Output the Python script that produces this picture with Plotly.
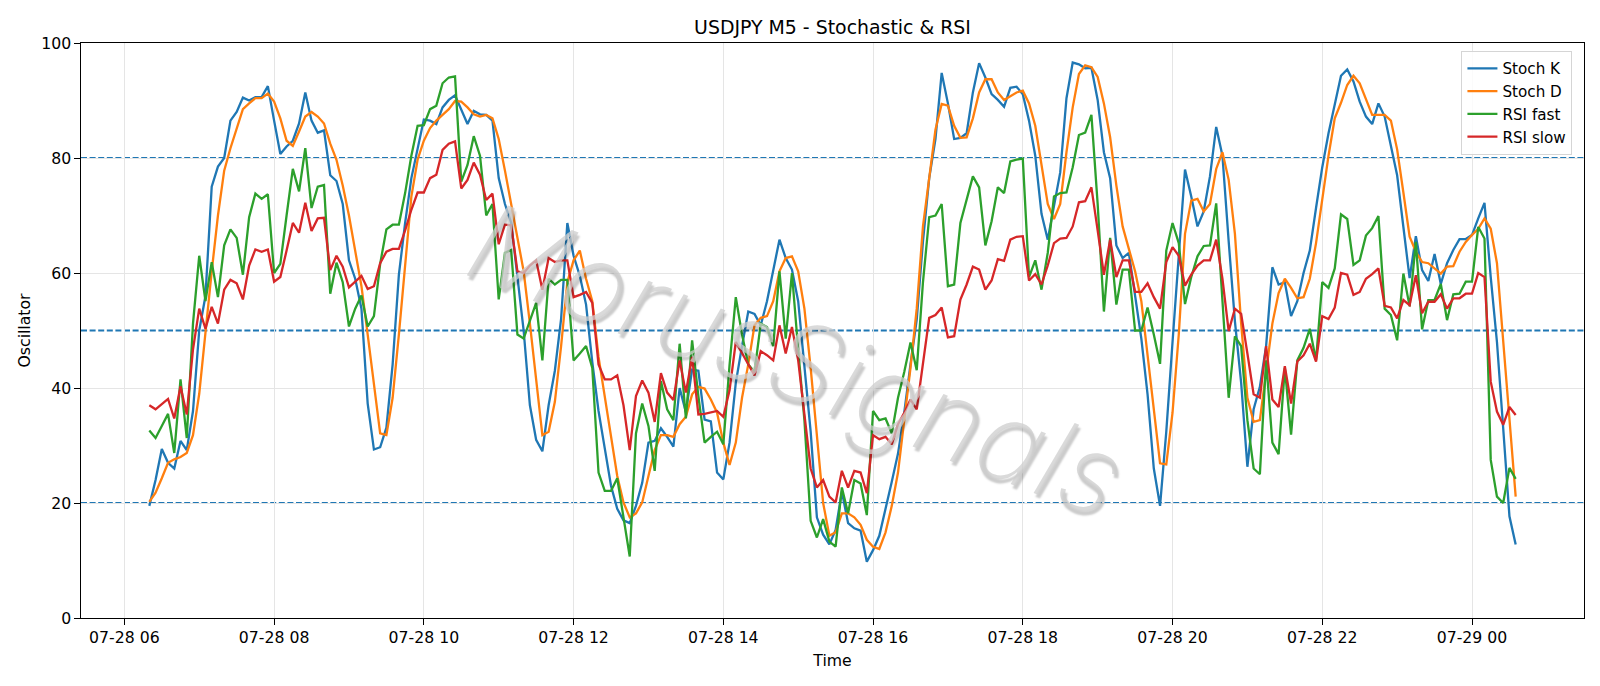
import pandas as pd
import plotly.graph_objects as go

# ---------------- data ----------------
start_time = "2024-07-28 06:20"
n_points = 220
step = "5min"

stoch_k = [
    19.5, 24, 29.4, 27, 26, 30.8, 29.2, 36, 50, 56,
    75, 78.5, 80, 86.5, 88, 90.5, 90, 90.6, 90.6, 92.5,
    86.5, 80.7, 82, 83, 86, 91.4, 86.5, 84.4, 84.8, 77,
    76, 72, 62.2, 59, 53.8, 37.3, 29.3, 29.7, 33.1, 44.1,
    59.7, 68.7, 76.5, 81.7, 86.7, 86.5, 85.9, 88.8, 90.1, 90.9,
    88.5, 85.9, 88.2, 87.6, 87.5, 86.5, 76.5, 72, 68.7, 59.5,
    50, 37, 31, 29, 37, 43, 52, 68.7, 63, 59.5,
    54.5, 44.5, 36, 29.5, 23, 19, 17, 16.5, 19.5, 23.5,
    30.5, 30.8, 33, 31.5, 29.8, 40, 35.8, 43.2, 43, 34.5,
    34.2, 25.3, 24.1, 30.5, 40.9, 47.3, 53.3, 52.9, 50.9, 55.1,
    60.3, 65.8, 62.6, 60.6, 55.1, 43.5, 32.4, 17.5, 14.5, 12.8,
    15.3, 22, 16.5, 15.6, 15.2, 9.8, 11.8, 14.3, 18.8, 23.7,
    28.6, 35.7, 44.1, 51.9, 65.5, 76.5, 83.3, 94.8, 89.5, 83.3,
    83.5, 84.3, 91.4, 96.5, 94, 91.1, 90.1, 88.9, 92.2, 92.4,
    91.1, 86.5, 80.4, 70.3, 65.8, 72, 77.5, 90.4, 96.6, 96.3,
    95.6, 95.7, 90.1, 81, 76.5, 64.8, 62.6, 63.5, 56.4, 48.6,
    38.9, 26, 19.5, 32.4, 48, 63.5, 78, 73.3, 68.1, 70.7,
    76.8, 85.4, 80.4, 65.5, 51.6, 40.9, 26.3, 36.3, 40.2, 47.3,
    61, 58, 58.4, 52.5, 55.1, 60, 63.9, 71.3, 78.4, 84.3,
    89.5, 94.3, 95.4, 93.3, 89.8, 87.2, 85.9, 89.5, 87.2, 82.3,
    77, 68, 59.1, 66.4, 60.5, 58.6, 63.3, 58.1, 61.7, 64,
    65.9, 65.9, 66.6, 69.5, 72.2, 59.3, 48, 33, 17.7, 12.8,
]

stoch_d = [
    20.2, 21.8, 24.3, 27, 27.6, 28, 28.7, 31.8, 39, 50,
    60.3, 70, 77.8, 81.7, 85, 88.5, 89.5, 90.4, 90.4, 91.2,
    89.8, 86.9, 83, 82.1, 84.6, 87.2, 88, 87.2, 86, 82.5,
    79.7, 75.2, 70, 64.2, 57.7, 49.3, 40.2, 32.1, 31.8, 38.3,
    49.3, 61.6, 73.3, 79.7, 83, 85.2, 86.5, 87.5, 88.5, 89.9,
    89.8, 88.8, 87.6, 87.2, 87.5, 86.9, 83.3, 77.8, 72, 66,
    60.3, 51.2, 40.9, 31.8, 32.4, 37.6, 47.3, 58.4, 62.2, 63.9,
    59, 55.1, 45.4, 38.3, 31.1, 24.7, 20.1, 17.5, 18.2, 20.1,
    24.7, 29.2, 31.8, 31.8, 31.5, 33.7, 35, 38.9, 40.2, 39.9,
    38, 35.7, 30.5, 26.6, 30.5, 38.3, 44.1, 50.9, 52.2, 52.5,
    55.1, 60.3, 62.6, 62.9, 60.3, 53.8, 43.5, 31.1, 20, 14.3,
    14.9, 18.2, 18.2, 17.5, 16.2, 13.6, 12.4, 12, 14.9, 19.5,
    25.3, 34.4, 43.5, 53.8, 68.1, 76.5, 84.9, 89.4, 89.1, 85.6,
    83.5, 83.6, 86.9, 91.4, 93.7, 93.7, 91.4, 90.1, 90.8, 91.4,
    91.7, 89.5, 85.6, 79.1, 72, 69.4, 72, 81, 88.8, 94.6,
    96.1, 95.8, 94.1, 89.5, 83.6, 75.2, 68.1, 64.2, 60.3, 55.1,
    45.4, 36.3, 26.9, 26.7, 35.7, 49.3, 66.8, 72.6, 72.9, 70.7,
    72, 78.1, 81, 76.2, 66.8, 51.2, 38.3, 34.1, 34.4, 42.8,
    51.2, 56.5, 59, 57.4, 55.6, 55.8, 59, 65.2, 72.9, 80.4,
    86.9, 89.6, 92.7, 94.3, 93, 90.1, 87.5, 87.5, 87.5, 86.5,
    81.5, 74, 66.3, 63.7, 61.9, 61.7, 60.8, 59.9, 61.1, 61.2,
    63.7, 65.4, 66.6, 67.7, 69.5, 67.7, 61.7, 47.8, 35, 21.1,
]

rsi_fast = [
    32.6, 31.3, 33.4, 35.5, 28.7, 41.5, 31.3, 51.2, 63, 55.1,
    61.9, 55.8, 64.8, 67.6, 66.1, 59.7, 69.7, 73.8, 72.9, 73.7,
    60, 61.6, 70, 78.1, 74.2, 81.7, 71.3, 75, 75.3, 56.4,
    61.8, 58.4, 50.7, 53.8, 56.1, 50.7, 52.5, 61.6, 67.6, 68.4,
    68.4, 73.9, 80.4, 85.6, 85.7, 88.5, 89.1, 93, 94, 94.2,
    75.9, 78.8, 83.8, 80.4, 70, 72, 55.4, 63.5, 64, 49.3,
    48.6, 51.9, 54.8, 44.8, 59, 58, 58.8, 58.8, 44.8, 46,
    47.3, 43.5, 25.3, 22.1, 22.1, 24.3, 17.5, 10.7, 32.1, 37.3,
    33.4, 25.6, 41.2, 36.3, 34.4, 47.7, 34.7, 48.3, 38.6, 30.5,
    31.5, 32.4, 30.2, 44, 55.8, 49.3, 44.1, 42.8, 51.2, 50.6,
    47.3, 60.3, 48.6, 60, 46.7, 34.4, 16.9, 14, 17.2, 13.3,
    12.4, 22.7, 18.2, 24, 23.4, 17.9, 36, 34.4, 34.7, 32.1,
    38.3, 42.8, 47.9, 43.1, 58.4, 69.7, 70, 72, 57.7, 58,
    68.7, 72.6, 76.8, 74.9, 64.8, 69, 74.9, 73.9, 79.4, 79.7,
    79.9, 59.3, 62.2, 57.1, 63.5, 73.3, 73.9, 74, 78.4, 84,
    84.4, 87.5, 72, 53.3, 66.1, 54.5, 60.6, 60.6, 50, 50,
    54, 49.3, 44.2, 63.9, 68.7, 65.2, 54.6, 59.3, 62.9, 64.7,
    64.8, 72.1, 55.1, 38.3, 49, 47.3, 34.4, 26, 25, 44.8,
    30.5, 28.5, 43.5, 31.9, 44.8, 47, 50.3, 44.8, 58.4, 57.4,
    60.8, 70.2, 69.4, 61.4, 62.2, 66.5, 67.8, 69.9, 53.8, 52.7,
    48.3, 59.9, 54.2, 65.4, 50.2, 55.3, 55.3, 58.1, 51.8, 56.3,
    56.4, 58.5, 58.5, 68, 66, 27.5, 21.1, 20, 26.1, 24.2,
]

rsi_slow = [
    37, 36.3, 37.2, 38.1, 34.7, 40.3, 35.4, 46.7, 53.8, 50.3,
    54.1, 51.2, 57.1, 58.8, 58.2, 55.4, 61.3, 64.1, 63.7, 64.1,
    58.5, 59.3, 63.9, 68.7, 67, 72.2, 67.3, 69.5, 69.6, 60.5,
    63, 61.1, 57.5, 58.5, 59.5, 57.2, 57.7, 61.7, 63.7, 64.2,
    64.2, 67.4, 71, 74, 74, 76.5, 77.1, 81.4, 82.5, 82.9,
    74.7, 76.2, 79.2, 77.1, 72.7, 73.8, 65, 68.4, 68.3, 60.3,
    60, 61.3, 62.2, 57.1, 62.6, 61.9, 62.2, 62.2, 55.8, 56.2,
    56.7, 54.8, 44.1, 41.5, 41.5, 42.2, 37, 29.2, 38.6, 41.3,
    39.2, 34.1, 42.6, 39.2, 37.9, 44.8, 39.2, 45.4, 35.4, 35.5,
    35.8, 36, 35, 39.6, 48, 46, 44.1, 42.2, 46.4, 45.7,
    44.8, 50.9, 46, 50.6, 44.8, 35.7, 26, 22.7, 24, 21.1,
    20.1, 25.6, 22.7, 25.6, 25.3, 21.7, 31.8, 31.1, 31.5, 30.2,
    33.7, 35.7, 38, 36.3, 44.1, 52.2, 52.7, 54, 48.8, 49,
    55.4, 58, 61.1, 60.6, 57.1, 58.7, 62.4, 62.1, 65.8, 66.3,
    66.4, 58.7, 59.8, 58, 61.3, 65.2, 66, 66.1, 68.1, 72.3,
    72.5, 74.9, 67.4, 59.7, 65.8, 59.3, 62.2, 62.2, 56.7, 56.7,
    58.2, 55.8, 53.8, 61.9, 64.5, 63, 57.8, 59.7, 61.3, 62.2,
    62.2, 65.8, 59, 49.9, 53.8, 52.9, 46, 38.9, 38.3, 47.3,
    38, 36.7, 43.8, 37.3, 44.6, 45.7, 47.7, 44.6, 52.5, 52,
    54, 60, 59.7, 56.2, 56.7, 59, 59.8, 60.8, 54.3, 54,
    52.1, 55.3, 54.4, 59.6, 53, 55, 55, 56.3, 53.8, 55.6,
    55.6, 56.4, 56.4, 60, 59.3, 41.1, 35.9, 33.6, 36.7, 35.3,
]

series_names = ["Stoch K", "Stoch D", "RSI fast", "RSI slow"]
series_colors = ["#1f77b4", "#ff7f0e", "#2ca02c", "#d62728"]
levels = [20, 50, 80]
y_ticks = [0, 20, 40, 60, 80, 100]
watermark = "MorusSignals"

# ---------------- figure ----------------
times = pd.date_range(start_time, periods=n_points, freq=step)
span = times[-1] - times[0]
x_range = [times[0] - span * 0.05, times[-1] + span * 0.05]

FONT = "DejaVu Sans"
fig = go.Figure()
for name, vals, col in zip(series_names, [stoch_k, stoch_d, rsi_fast, rsi_slow], series_colors):
    fig.add_trace(go.Scatter(x=times, y=vals, mode="lines", name=name,
                             line=dict(color=col, width=2.3)))

for lv in levels:
    fig.add_shape(type="line", xref="paper", x0=0, x1=1, yref="y", y0=lv, y1=lv,
                  line=dict(color="#1f77b4", width=1.9, dash="6px,2.6px"), layer="between")

axis_common = dict(
    showgrid=True, gridcolor="#e5e5e5", gridwidth=1,
    showline=True, linecolor="black", linewidth=1.3, mirror=True,
    ticks="outside", ticklen=5.5, tickwidth=1.3, tickcolor="black",
    tickfont=dict(family=FONT, size=15.7, color="black"),
    zeroline=False,
)

fig.update_layout(
    width=1600, height=686,
    margin=dict(l=81, r=16, t=43, b=68, autoexpand=False),
    paper_bgcolor="white", plot_bgcolor="white",
    font=dict(family=FONT, color="black"),
    title=dict(text="USDJPY M5 - Stochastic & RSI", x=0.5, xref="paper", xanchor="center",
               y=1 - 27 / 686, yref="container", yanchor="middle",
               font=dict(family=FONT, size=18.9, color="black")),
    xaxis=dict(type="date", range=x_range, tick0="2024-07-28 00:00", dtick=7200000,
               tickformat="%m-%d %H",
               title=dict(text="Time", standoff=8, font=dict(family=FONT, size=15.7, color="black")),
               **axis_common),
    yaxis=dict(range=[0, 100], tickvals=y_ticks,
               title=dict(text="Oscillator", standoff=6, font=dict(family=FONT, size=15.7, color="black")),
               **axis_common),
    legend=dict(x=0.9923, xanchor="right", y=0.986, yanchor="top",
                bgcolor="rgba(255,255,255,0.85)", bordercolor="#d5d5d5", borderwidth=1,
                font=dict(family=FONT, size=15.2, color="black"), itemwidth=30,
                tracegroupgap=0),
    showlegend=True,
)

fig.add_annotation(text=watermark, xref="paper", yref="paper", x=0.476, y=0.45,
                   showarrow=False, textangle=21,
                   font=dict(family="Inter, Lato, Roboto, DejaVu Sans", size=110,
                             color="rgba(205,205,205,0.75)",
                             style="italic", weight=200,
                             shadow="3px 3px 2px rgba(0,0,0,0.28)"))

fig.write_html("out.html")
